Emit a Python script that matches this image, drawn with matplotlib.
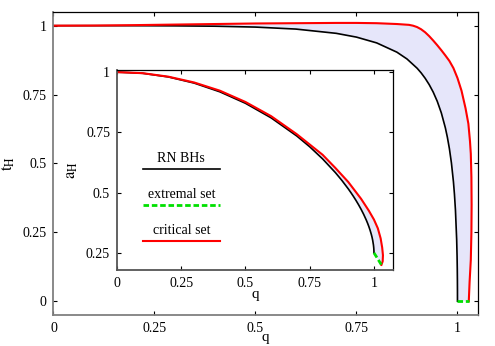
import matplotlib
matplotlib.use("Agg")
import matplotlib.pyplot as plt

plt.rcParams['font.family'] = ['Liberation Serif', 'DejaVu Serif']
plt.rcParams['mathtext.fontset'] = 'stix'
plt.rcParams['font.size'] = 10

# main plot: t_H vs q
rn_q = [0, 0.1, 0.2, 0.3, 0.4, 0.5, 0.6, 0.7, 0.75, 0.8, 0.85, 0.875, 0.9, 0.91,
        0.92, 0.93, 0.94, 0.95, 0.96, 0.97, 0.975, 0.98, 0.985, 0.99, 0.9925,
        0.995, 0.998, 0.999, 0.9995, 0.9998, 0.99995, 1.0]
rn_t = [1.0, 1.0, 0.9999, 0.9994, 0.9981, 0.9949, 0.9877, 0.9722, 0.9585, 0.9375,
        0.9039, 0.8792, 0.8457, 0.8288, 0.8091, 0.7861, 0.7587, 0.7253, 0.6836,
        0.6293, 0.5950, 0.5537, 0.5020, 0.4334, 0.3883, 0.3303, 0.2237, 0.1639,
        0.1188, 0.0769, 0.0392, 0.0]

crit_q = [0, 0.1, 0.2, 0.3, 0.4, 0.5, 0.6, 0.7, 0.75, 0.8, 0.85, 0.87, 0.88, 0.89,
          0.9, 0.91, 0.92, 0.93, 0.94, 0.95, 0.96, 0.97, 0.98, 0.99, 1.0, 1.01,
          1.02, 1.027, 1.031, 1.033, 1.0345, 1.035, 1.0345, 1.033, 1.030, 1.028]
crit_t = [1.0, 1.0005, 1.002, 1.004, 1.006, 1.008, 1.009, 1.010, 1.010, 1.009,
          1.006, 1.004, 1.003, 1.000, 0.995, 0.987, 0.976, 0.962, 0.946, 0.929,
          0.911, 0.892, 0.872, 0.846, 0.810, 0.764, 0.700, 0.644, 0.580, 0.535,
          0.45, 0.35, 0.25, 0.15, 0.07, 0.0]

ext_q = [1.0, 1.028]
ext_t = [0.0, 0.0]

# inset: a_H vs q
rn_a = [1.0, 0.995, 0.9799, 0.9545, 0.9183, 0.8705, 0.81, 0.7346, 0.6901, 0.64,
        0.5828, 0.5507, 0.5155, 0.5003, 0.4844, 0.4676, 0.4497, 0.4305, 0.4096,
        0.3863, 0.3734, 0.3594, 0.3437, 0.3255, 0.3149, 0.3024, 0.2826, 0.2729,
        0.2661, 0.2601, 0.2550, 0.25]
crit_qi = [0, 0.1, 0.2, 0.3, 0.4, 0.5, 0.6, 0.7, 0.8, 0.85, 0.9, 0.95, 0.98, 1.0,
           1.015, 1.026, 1.032, 1.035, 1.034, 1.029]
crit_a = [1.0, 0.9955, 0.981, 0.957, 0.923, 0.876, 0.817, 0.742, 0.657, 0.602,
          0.544, 0.474, 0.425, 0.388, 0.352, 0.310, 0.272, 0.240, 0.215, 0.200]
ext_qi = [1.0, 1.013, 1.029]
ext_a = [0.25, 0.228, 0.200]

fill_col = '#e6e6fa'


def style(ax, spine_col):
    ax.tick_params(direction='in', top=True, right=True, length=3, width=0.8,
                   labelsize=10, pad=5)
    for s in ['left', 'bottom']:
        ax.spines[s].set_color(spine_col)
        ax.spines[s].set_linewidth(1.3)
    for s in ['top', 'right']:
        ax.spines[s].set_linewidth(0.9)


fig = plt.figure(figsize=(4.95, 3.46), dpi=100)
ax = fig.add_axes([0.108, 0.0896, 0.857, 0.876])

# shaded region between RN and critical curves
ax.fill(rn_q + crit_q[::-1], rn_t + crit_t[::-1], color=fill_col, lw=0)
ax.plot(rn_q, rn_t, color='black', lw=1.2)
ax.plot(crit_q, crit_t, color='red', lw=1.5)
ax.plot(ext_q, ext_t, color='#00e000', lw=2, ls=(0, (2, 1)))
ax.set_xlim(0, 1.05)
ax.set_ylim(-0.05, 1.05)
ax.set_xticks([0, 0.25, 0.5, 0.75, 1])
ax.set_xticklabels(['0', '0.25', '0.5', '0.75', '1'])
ax.set_yticks([0, 0.25, 0.5, 0.75, 1])
ax.set_yticklabels(['0', '0.25', '0.5', '0.75', '1'])
ax.set_xlabel('q', fontsize=11, labelpad=-3)
ax.set_ylabel(r'$\mathrm{t_H}$', fontsize=12, labelpad=4)
style(ax, '#808080')

ins = fig.add_axes([0.2364, 0.2205, 0.558, 0.576])
ins.fill(rn_q + ext_qi[1:] + crit_qi[::-1], rn_a + ext_a[1:] + crit_a[::-1],
         color=fill_col, lw=0)
ins.plot(rn_q, rn_a, color='black', lw=1.2)
ins.plot(crit_qi, crit_a, color='red', lw=1.5)
ins.plot(ext_qi, ext_a, color='#00e000', lw=2, ls=(0, (2, 1)))
ins.set_xlim(0, 1.075)
ins.set_ylim(0.18, 1.007)
ins.set_xticks([0, 0.25, 0.5, 0.75, 1])
ins.set_xticklabels(['0', '0.25', '0.5', '0.75', '1'])
ins.set_yticks([0.25, 0.5, 0.75, 1])
ins.set_yticklabels(['0.25', '0.5', '0.75', '1'])
ins.set_xlabel('q', fontsize=11, labelpad=-1)
ins.set_ylabel(r'$\mathrm{a_H}$', fontsize=12, labelpad=4)
style(ins, '#555555')

# gnuplot-like key: text above sample line
keys = [('RN BHs', 'black', '-', 1.2, 0.505),
        ('extremal set', '#00e000', (0, (2, 1)), 2, 0.326),
        ('critical set', 'red', '-', 1.5, 0.145)]
for label, col, ls, lw, y in keys:
    ins.plot([0.094, 0.373], [y, y], transform=ins.transAxes, color=col,
             ls=ls, lw=lw)
    ins.text(0.233, y + 0.02, label, transform=ins.transAxes, ha='center',
             va='bottom', fontsize=10)

fig.savefig('out.png', dpi=100)
